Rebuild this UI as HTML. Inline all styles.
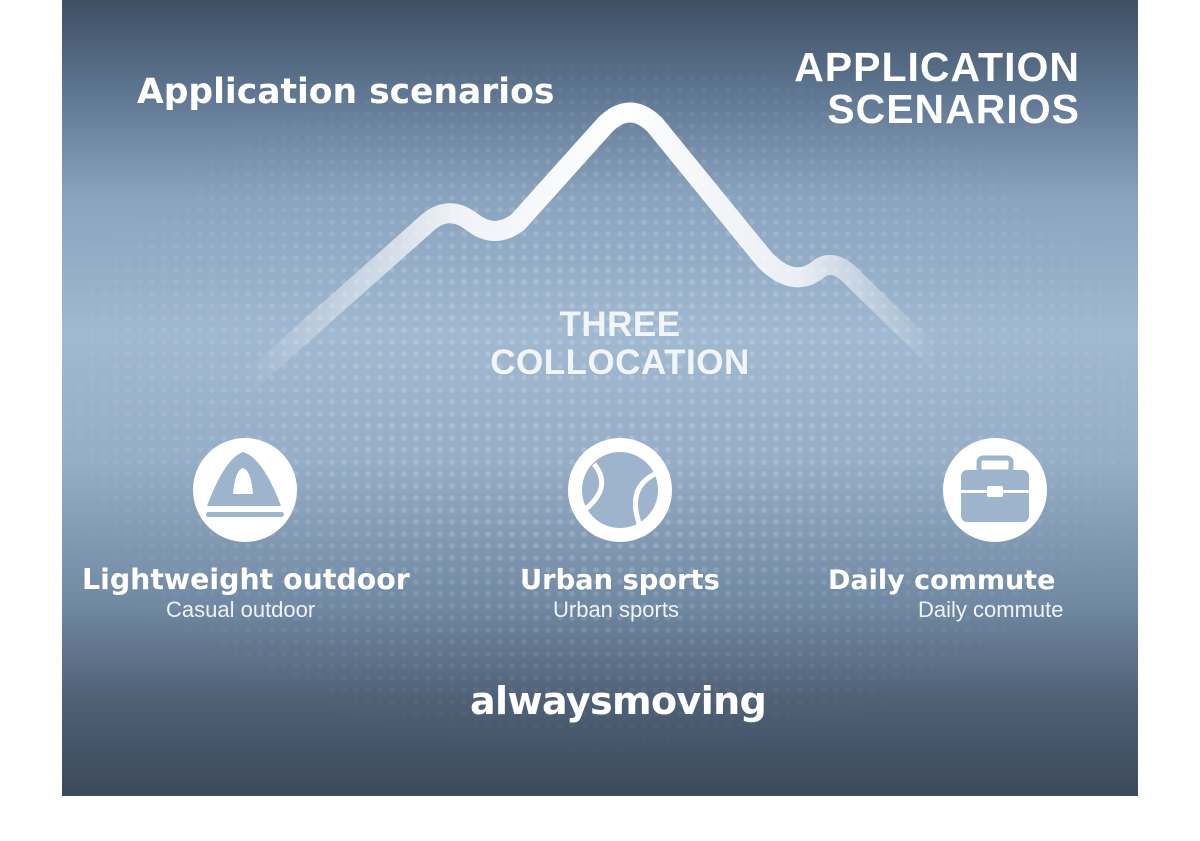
<!DOCTYPE html>
<html><head><meta charset="utf-8"><style>
body{margin:0;width:1200px;height:841px;background:#fff;position:relative;overflow:hidden;font-family:"Liberation Sans",sans-serif}
#p{position:absolute;left:62px;top:0;width:1076px;height:796px;background:linear-gradient(180deg,#3f4f63 0%,#5f7792 12%,#8aa3bf 25%,#a0b8d0 42%,#95adc6 58%,#7088a2 76%,#4f6075 88%,#3b495b 100%);overflow:hidden}
#dots{position:absolute;inset:0;background-image:radial-gradient(circle,rgba(255,255,255,.22) 2.6px,transparent 3px);background-size:12px 12px;-webkit-mask-image:radial-gradient(ellipse 55% 45% at 50% 50%,#000 40%,transparent 100%);opacity:.8}
.t{position:absolute;color:#fff;font-weight:bold;white-space:nowrap}
.s{position:absolute;color:#eef3f8;font-size:22px;white-space:nowrap}
.c{position:absolute;width:104px;height:104px;border-radius:50%;background:#fff}
</style></head><body>
<div id="p"><div id="dots"></div></div>
<svg style="position:absolute;left:0;top:0" width="1200" height="841">
<defs><linearGradient id="g" x1="245" y1="0" x2="935" y2="0" gradientUnits="userSpaceOnUse">
<stop offset="0" stop-color="#fff" stop-opacity="0"/><stop offset=".3" stop-color="#fff" stop-opacity=".85"/><stop offset=".55" stop-color="#fff" stop-opacity="1"/><stop offset=".8" stop-color="#fff" stop-opacity=".8"/><stop offset="1" stop-color="#fff" stop-opacity="0"/></linearGradient></defs>
<path d="M245 385 L425 225 Q448 203 472 222 Q495 240 518 222 L605 125 Q630 100 655 125 L765 260 Q795 290 820 268 Q835 258 855 280 L935 358" fill="none" stroke="url(#g)" stroke-width="20" stroke-linecap="round" stroke-linejoin="round"/>
</svg>
<div class="t" style="left:137px;top:72px;font-size:34.5px;font-family:'DejaVu Sans',sans-serif">Application scenarios</div>
<div class="t" style="left:780px;top:46px;font-size:41px;line-height:42px;text-align:right;width:300px;letter-spacing:1px">APPLICATION<br>SCENARIOS</div>
<div class="t" style="left:460px;top:306px;width:320px;text-align:center;font-size:35px;line-height:38px;color:#f2f5f8;letter-spacing:.5px">THREE<br>COLLOCATION</div>
<div class="c" style="left:193px;top:438px"></div>
<svg style="position:absolute;left:193px;top:438px" width="104" height="104"><path d="M14 68 Q32 20 50 14 Q70 20 88 68 Z" fill="#9db4cc"/><path d="M40 56 Q42 32 50 30 Q58 32 60 56 Z" fill="#fff"/><rect x="13" y="74" width="78" height="5" rx="2.5" fill="#9db4cc"/></svg>
<div class="c" style="left:568px;top:438px"></div>
<svg style="position:absolute;left:568px;top:438px" width="104" height="104"><circle cx="52" cy="52" r="38" fill="#9db4cc"/><path d="M26 26 Q46 50 14 74" fill="none" stroke="#fff" stroke-width="5"/><path d="M87 36 Q58 50 72 88" fill="none" stroke="#fff" stroke-width="5"/></svg>
<div class="c" style="left:943px;top:438px"></div>
<svg style="position:absolute;left:943px;top:438px" width="104" height="104"><rect x="36" y="20" width="32" height="14" rx="4" fill="none" stroke="#9db4cc" stroke-width="5"/><rect x="18" y="32" width="68" height="52" rx="6" fill="#9db4cc"/><rect x="18" y="52" width="68" height="3" fill="#fff"/><rect x="44" y="48" width="16" height="11" rx="2" fill="#fff"/></svg>
<div class="t" style="left:82px;top:563px;font-size:28.4px;font-family:'DejaVu Sans',sans-serif">Lightweight outdoor</div>
<div class="s" style="left:166px;top:597px">Casual outdoor</div>
<div class="t" style="left:520px;top:565px;font-size:27.3px;font-family:'DejaVu Sans',sans-serif">Urban sports</div>
<div class="s" style="left:553px;top:597px">Urban sports</div>
<div class="t" style="left:828px;top:565px;font-size:27px;font-family:'DejaVu Sans',sans-serif">Daily commute</div>
<div class="s" style="left:918px;top:597px">Daily commute</div>
<div class="t" style="left:470px;top:679px;font-size:38px;font-family:'DejaVu Sans',sans-serif;letter-spacing:-.6px">alwaysmoving</div>
</body></html>
